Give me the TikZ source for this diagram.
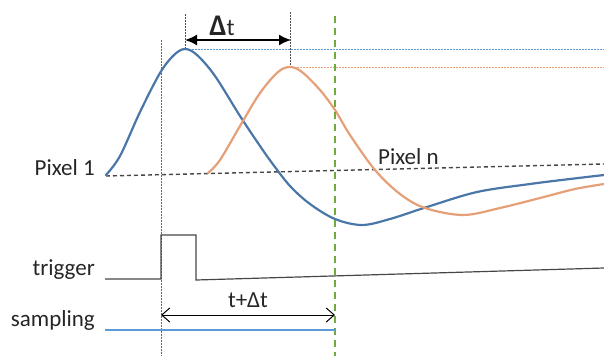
\documentclass[tikz,border=0pt]{standalone}
\usepackage{fontspec}
\setmainfont{Carlito}
\usetikzlibrary{arrows.meta}
\definecolor{pblue}{RGB}{74,118,168}
\definecolor{porange}{RGB}{230,160,120}
\definecolor{pgreen}{RGB}{110,170,60}
\definecolor{lblue}{RGB}{91,155,213}
\definecolor{gline}{RGB}{70,70,70}
\definecolor{rline}{RGB}{255,40,40}
\definecolor{gdark}{RGB}{80,80,80}
\tikzset{
  lbl/.style={font=\fontsize{23}{26}\selectfont, inner sep=0pt, text=black!85},
  sig/.style={line width=2.2pt, line join=round, line cap=round},
  myguide/.style={line width=1pt, dash pattern=on 2pt off 1pt, color=#1}}
\begin{document}
\begin{tikzpicture}[x=1pt,y=-1pt]
\useasboundingbox (0,0) rectangle (604,356);
% named coordinates
\coordinate (bpk) at (185.5,49.5);
\coordinate (opk) at (290.5,67.5);
\coordinate (bR) at (604,49.5);
\coordinate (oR) at (604,67.5);
\coordinate (bt) at (185.5,14);
\coordinate (ot) at (290.5,12);
\coordinate (rt) at (161.5,40);
\coordinate (rb) at (161.5,356);
\coordinate (gt) at (335,16);
\coordinate (gb) at (335,356);
\coordinate (dl) at (106,176);
\coordinate (dr) at (604,164);
\coordinate (da) at (185,40);
\coordinate (db) at (291,40);
\coordinate (ta) at (161,315);
\coordinate (tb) at (335,315);
\coordinate (sa) at (105,330);
\coordinate (sb) at (335,330);
% guides
\draw[myguide=lblue] (bpk) -- (bR);
\draw[myguide=porange] (opk) -- (oR);
\draw[myguide=gdark] (bt) -- (bpk);
\draw[myguide=gdark] (ot) -- (opk);
\draw[myguide=rline] (rt) -- (rb);
% baseline
\draw[line width=1.4pt, gline, dash pattern=on 4pt off 3pt] (dl) -- (dr);
% blue curve
\draw[sig, pblue] plot[smooth, tension=0.55] coordinates {(106,175) (120,156) (140,112) (160,73) (174,55) (185,49) (197,55) (215,76) (240,116) (260,146) (272,163) (290,186) (310,204) (335,219) (362,225) (390,219) (427,207) (477,192) (530,184) (570,179) (604,175)};
% orange curve
\draw[sig, porange] plot[smooth, tension=0.55] coordinates {(208,173) (220,160) (240,126) (260,93) (278,72) (290,67) (302,72) (320,90) (335,110) (350,135) (375,170) (400,194) (425,208) (463,215) (500,208) (540,198) (575,189) (604,184)};
% green dashed
\draw[line width=1.6pt, pgreen, dash pattern=on 7pt off 5pt] (gt) -- (gb);
% Delta t arrow
\draw[line width=1.6pt, {Latex[length=12pt,width=11pt]}-{Latex[length=12pt,width=11pt]}] (da) -- (db);
\node[lbl, font=\fontsize{24}{26}\selectfont] (dtl) at (222,26) {{\bfseries\fontsize{30}{30}\selectfont Δ}t};
% trigger
\draw[line width=1.2pt, gline] (105,279) -- (161,279) -- (161,235) -- (196,235) -- (196,280) -- (604,268);
% t + dt arrow
\draw[line width=1pt, {Straight Barb[length=8pt,width=14pt]}-{Straight Barb[length=8pt,width=14pt]}] (ta) -- (tb);
\node[lbl] (tdl) at (248,300) {t+Δt};
% sampling
\draw[line width=1.2pt, lblue] (sa) -- (sb);
% labels
\node[lbl, anchor=east] (p1) at (95,168) {Pixel 1};
\node[lbl, anchor=west] (pn) at (378,157) {Pixel n};
\node[lbl, anchor=east] (tr) at (95,270) {trigger};
\node[lbl, anchor=east] (sm) at (95,320) {sampling};
\end{tikzpicture}
\end{document}
